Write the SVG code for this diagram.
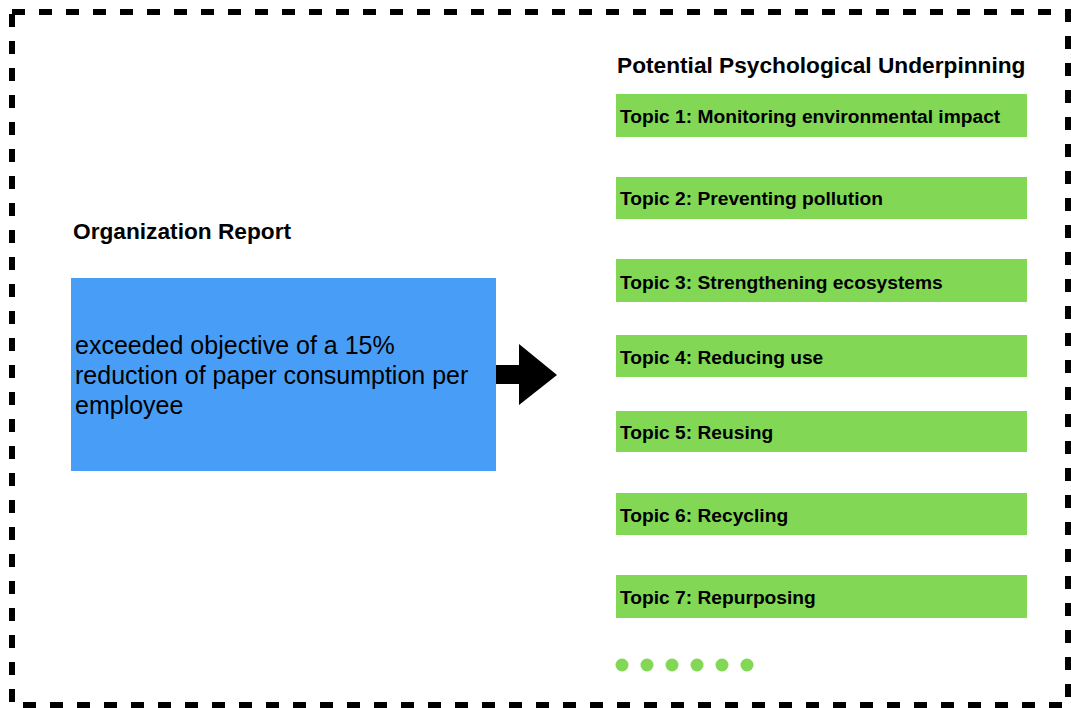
<svg xmlns="http://www.w3.org/2000/svg" width="1071" height="708" viewBox="0 0 1071 708">
<style>
.topic rect{fill:#82d855;}
.topic text{font-family:"Liberation Sans",Arial,sans-serif;font-size:19.2px;font-weight:bold;fill:#000;}
.title{font-family:"Liberation Sans",Arial,sans-serif;font-size:22.7px;font-weight:bold;fill:#000;}
.body{font-family:"Liberation Sans",Arial,sans-serif;font-size:25px;fill:#000;}
.dot{fill:#82d855;}
</style>
<rect x="12" y="12" width="1056" height="693" fill="#fff" stroke="#000" stroke-width="6" stroke-dasharray="13 14"/>
<g id="report">
<text class="title" x="73" y="239">Organization Report</text>
<rect x="71" y="278" width="425" height="193" fill="#489ef7"/>
<text class="body" x="75" y="354">exceeded objective of a 15%</text>
<text class="body" x="75" y="384">reduction of paper consumption per</text>
<text class="body" x="75" y="414">employee</text>
</g>
<g id="connectors">
<polygon points="496,365 519,365 519,344 557,375 519,405 519,384 496,384" fill="#000"/>
</g>
<g id="underpinning">
<text class="title" x="617" y="73">Potential Psychological Underpinning</text>
</g>
<g id="topic1" class="topic"><rect x="616" y="94" width="411" height="43"/><text x="620" y="123">Topic 1: Monitoring environmental impact</text></g>
<g id="topic2" class="topic"><rect x="616" y="177" width="411" height="42"/><text x="620" y="205">Topic 2: Preventing pollution</text></g>
<g id="topic3" class="topic"><rect x="616" y="259" width="411" height="43"/><text x="620" y="289">Topic 3: Strengthening ecosystems</text></g>
<g id="topic4" class="topic"><rect x="616" y="335" width="411" height="42"/><text x="620" y="364">Topic 4: Reducing use</text></g>
<g id="topic5" class="topic"><rect x="616" y="411" width="411" height="41"/><text x="620" y="439">Topic 5: Reusing</text></g>
<g id="topic6" class="topic"><rect x="616" y="493" width="411" height="42"/><text x="620" y="522">Topic 6: Recycling</text></g>
<g id="topic7" class="topic"><rect x="616" y="575" width="411" height="43"/><text x="620" y="604">Topic 7: Repurposing</text></g>
<g id="more">
<circle class="dot" cx="622" cy="665" r="6.5"/>
<circle class="dot" cx="647" cy="665" r="6.5"/>
<circle class="dot" cx="672" cy="665" r="6.5"/>
<circle class="dot" cx="697" cy="665" r="6.5"/>
<circle class="dot" cx="722" cy="665" r="6.5"/>
<circle class="dot" cx="747" cy="665" r="6.5"/>
</g>
</svg>
